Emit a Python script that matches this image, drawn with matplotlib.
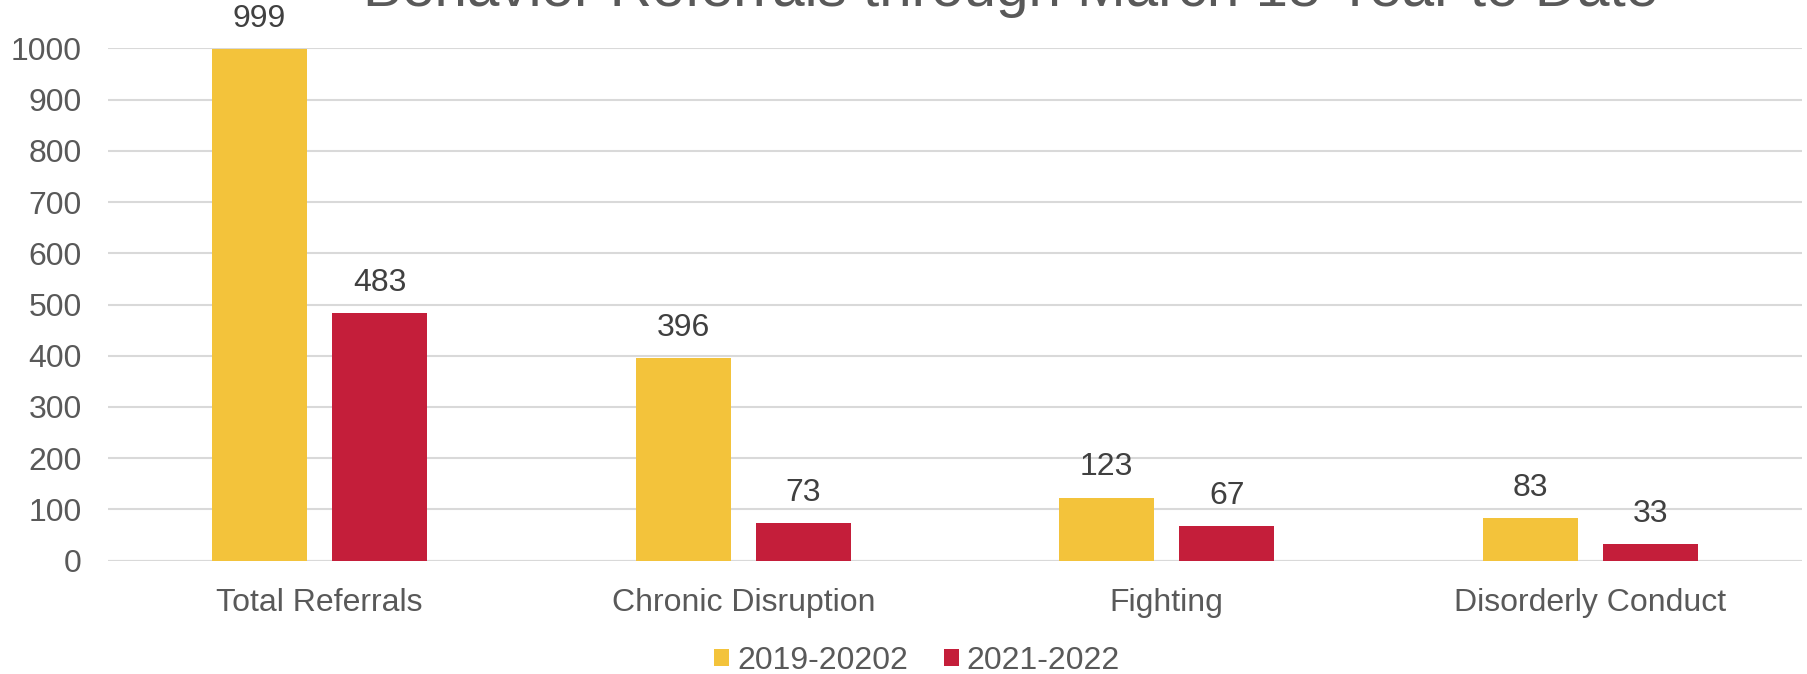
import matplotlib
matplotlib.use("Agg")
import matplotlib.pyplot as plt
import numpy as np

categories = ["Total Referrals", "Chronic Disruption", "Fighting", "Disorderly Conduct"]
series_names = ["2019-20202", "2021-2022"]
values_2019 = [999, 396, 123, 83]
values_2021 = [483, 73, 67, 33]
yticks = [0, 100, 200, 300, 400, 500, 600, 700, 800, 900, 1000]
title = "Behavior Referrals through March 18 Year to Date"

colors = ["#F3C33B", "#C41E3A"]
plt.rcParams['font.family'] = ['Liberation Sans', 'DejaVu Sans']
FS = 23

fig = plt.figure(figsize=(18.07, 6.74), dpi=100)
ax = fig.add_axes([108/1807, 1-560.7/674, (1802-108)/1807, (560.7-48.3)/674])

x = np.arange(len(categories))
w = 0.224
off = 0.142
b1 = ax.bar(x - off, values_2019, w, color=colors[0], label=series_names[0], zorder=3)
b2 = ax.bar(x + off, values_2021, w, color=colors[1], label=series_names[1], zorder=3)
for bars in (b1, b2):
    ax.bar_label(bars, padding=11, fontsize=FS, color="#404040")

ax.set_xlim(-0.5, len(categories) - 0.5)
ax.set_ylim(0, 1000)
ax.set_yticks(yticks)
ax.set_yticklabels([str(t) for t in yticks])
ax.set_xticks(x)
ax.set_xticklabels(categories)
ax.tick_params(axis='both', length=0, labelsize=FS, labelcolor="#595959")
ax.tick_params(axis='y', pad=19)
ax.tick_params(axis='x', pad=20)
ax.yaxis.grid(True, color="#D9D9D9", linewidth=1.5, zorder=0)
for s in ax.spines.values():
    s.set_visible(False)
ax.axhline(0, color="#D9D9D9", linewidth=1.5, zorder=2)

fig.text(1011/1807, 1-6/674, title, ha='center', va='baseline', fontsize=42, color="#595959")

fig.legend(handles=[b1, b2], labels=series_names, loc='center', bbox_to_anchor=(917/1807, 1-661/674),
           ncol=2, frameon=False, fontsize=FS, labelcolor="#595959", handlelength=0.47, handleheight=0.47,
           handletextpad=0.25, columnspacing=1.13)

fig.savefig("out.png", dpi=100)
